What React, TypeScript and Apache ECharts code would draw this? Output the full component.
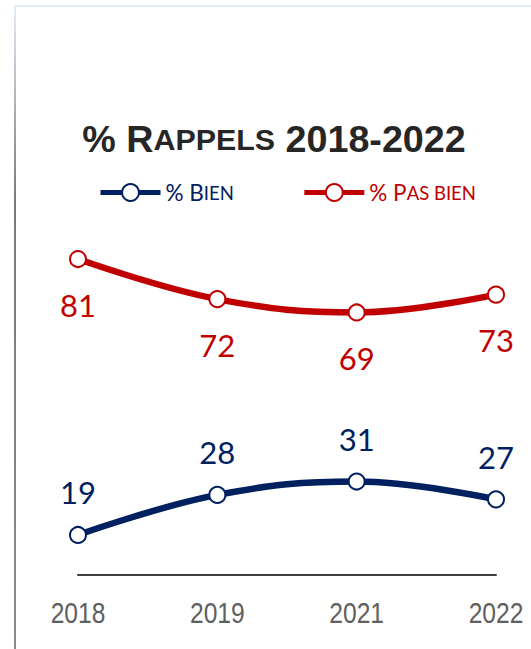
import React, { useEffect, useRef } from "react";
import * as echarts from "echarts";

const years = ["2018", "2019", "2021", "2022"];
const bienValues = [19, 28, 31, 27];
const pasBienValues = [81, 72, 69, 73];
const seriesNames = ["% Bien", "% Pas bien"];
const Y_MIN = 10;
const Y_MAX = 90;

const BLUE = "#002060";
const RED = "#C00000";
const NUM_FONT = "Lato, 'Open Sans', sans-serif";
const ARIAL = "'Liberation Sans', Arial, sans-serif";

export default function App() {
  const ref = useRef<HTMLDivElement>(null);
  useEffect(() => {
    if (!ref.current) return;
    const chart = echarts.init(ref.current, undefined, { renderer: "svg" });
    const mkSeries = (name: string, data: number[], color: string, pos: "top" | "bottom", dist: number) => ({
      name,
      type: "line",
      data,
      smooth: 0.4,
      symbol: "circle",
      symbolSize: 16,
      lineStyle: { color, width: 6.5 },
      itemStyle: { color: "#ffffff", borderColor: color, borderWidth: 2 },
      label: {
        show: true,
        position: pos,
        distance: dist,
        color,
        fontSize: 31,
        fontFamily: NUM_FONT,
      },
      emphasis: { disabled: true },
      z: 3,
    });

    const baseGraphic: any[] = [
      {
        type: "rect",
        shape: { x: 14, y: 5, width: 517, height: 2 },
        style: { fill: "#e4eefa" },
        silent: true,
      },
      {
        type: "rect",
        shape: { x: 14, y: 5, width: 2, height: 644 },
        style: {
          fill: new echarts.graphic.LinearGradient(0, 0, 0, 1, [
            { offset: 0, color: "#e4eefa" },
            { offset: 0.12, color: "#b9bec6" },
            { offset: 0.3, color: "#7a7a7a" },
            { offset: 1, color: "#8a8a8a" },
          ]),
        },
        silent: true,
      },
      {
        type: "text",
        x: 274,
        y: 139,
        silent: true,
        style: {
          text: "{a|% R}{b|APPELS}{a| 2018-2022}",
          align: "center",
          verticalAlign: "middle",
          fill: "#262626",
          rich: {
            a: { fontSize: 37.7, fontWeight: "bold", fontFamily: ARIAL, color: "#262626" },
            b: { fontSize: 30.4, fontWeight: "bold", fontFamily: ARIAL, color: "#262626" },
          },
        },
      },
    ];

    chart.setOption({
      animation: false,
      backgroundColor: "#ffffff",
      grid: { left: 78, right: 35, top: 219, bottom: 74 },
      xAxis: {
        type: "category",
        data: years,
        boundaryGap: false,
        axisLine: { show: true, lineStyle: { color: "#404040", width: 2 } },
        axisTick: { show: false },
        axisLabel: { show: false },
        splitLine: { show: false },
      },
      yAxis: {
        type: "value",
        min: Y_MIN,
        max: Y_MAX,
        show: false,
        splitLine: { show: false },
      },
      legend: {
        left: 93,
        top: 176,
        itemWidth: 60,
        itemHeight: 21,
        itemGap: 68,
        selectedMode: false,
        lineStyle: { width: 5 },
        itemStyle: { borderWidth: 2 },
        data: [
          { name: seriesNames[0], textStyle: { color: BLUE } },
          { name: seriesNames[1], textStyle: { color: RED } },
        ],
        formatter: (name: string) =>
          name === seriesNames[0] ? "{a|% B}{b|IEN}" : "{a|% P}{b|AS BIEN}",
        textStyle: {
          fontFamily: NUM_FONT,
          rich: {
            a: { fontSize: 22.5, fontFamily: NUM_FONT },
            b: { fontSize: 18.5, fontFamily: NUM_FONT },
          },
        },
      },
      graphic: baseGraphic,
      series: [
        mkSeries(seriesNames[0], bienValues, BLUE, "top", 18),
        mkSeries(seriesNames[1], pasBienValues, RED, "bottom", 21),
      ],
    });

    // Category labels, positioned through the axis scale (narrow look as in the reference)
    const axisY = chart.convertToPixel({ yAxisIndex: 0 }, Y_MIN) as number;
    const labelGraphic = years.map((yr) => ({
      type: "text",
      x: chart.convertToPixel({ xAxisIndex: 0 }, yr) as number,
      y: axisY + 37.5,
      scaleX: 0.82,
      silent: true,
      style: {
        text: yr,
        align: "center",
        verticalAlign: "middle",
        fill: "#606060",
        fontSize: 30,
        fontFamily: ARIAL,
      },
    }));
    chart.setOption({ graphic: [...baseGraphic, ...labelGraphic] });

    return () => chart.dispose();
  }, []);
  return (
    <div
      ref={ref}
      style={{ position: "fixed", left: 0, top: 0, width: 531, height: 649, background: "#fff" }}
    />
  );
}
